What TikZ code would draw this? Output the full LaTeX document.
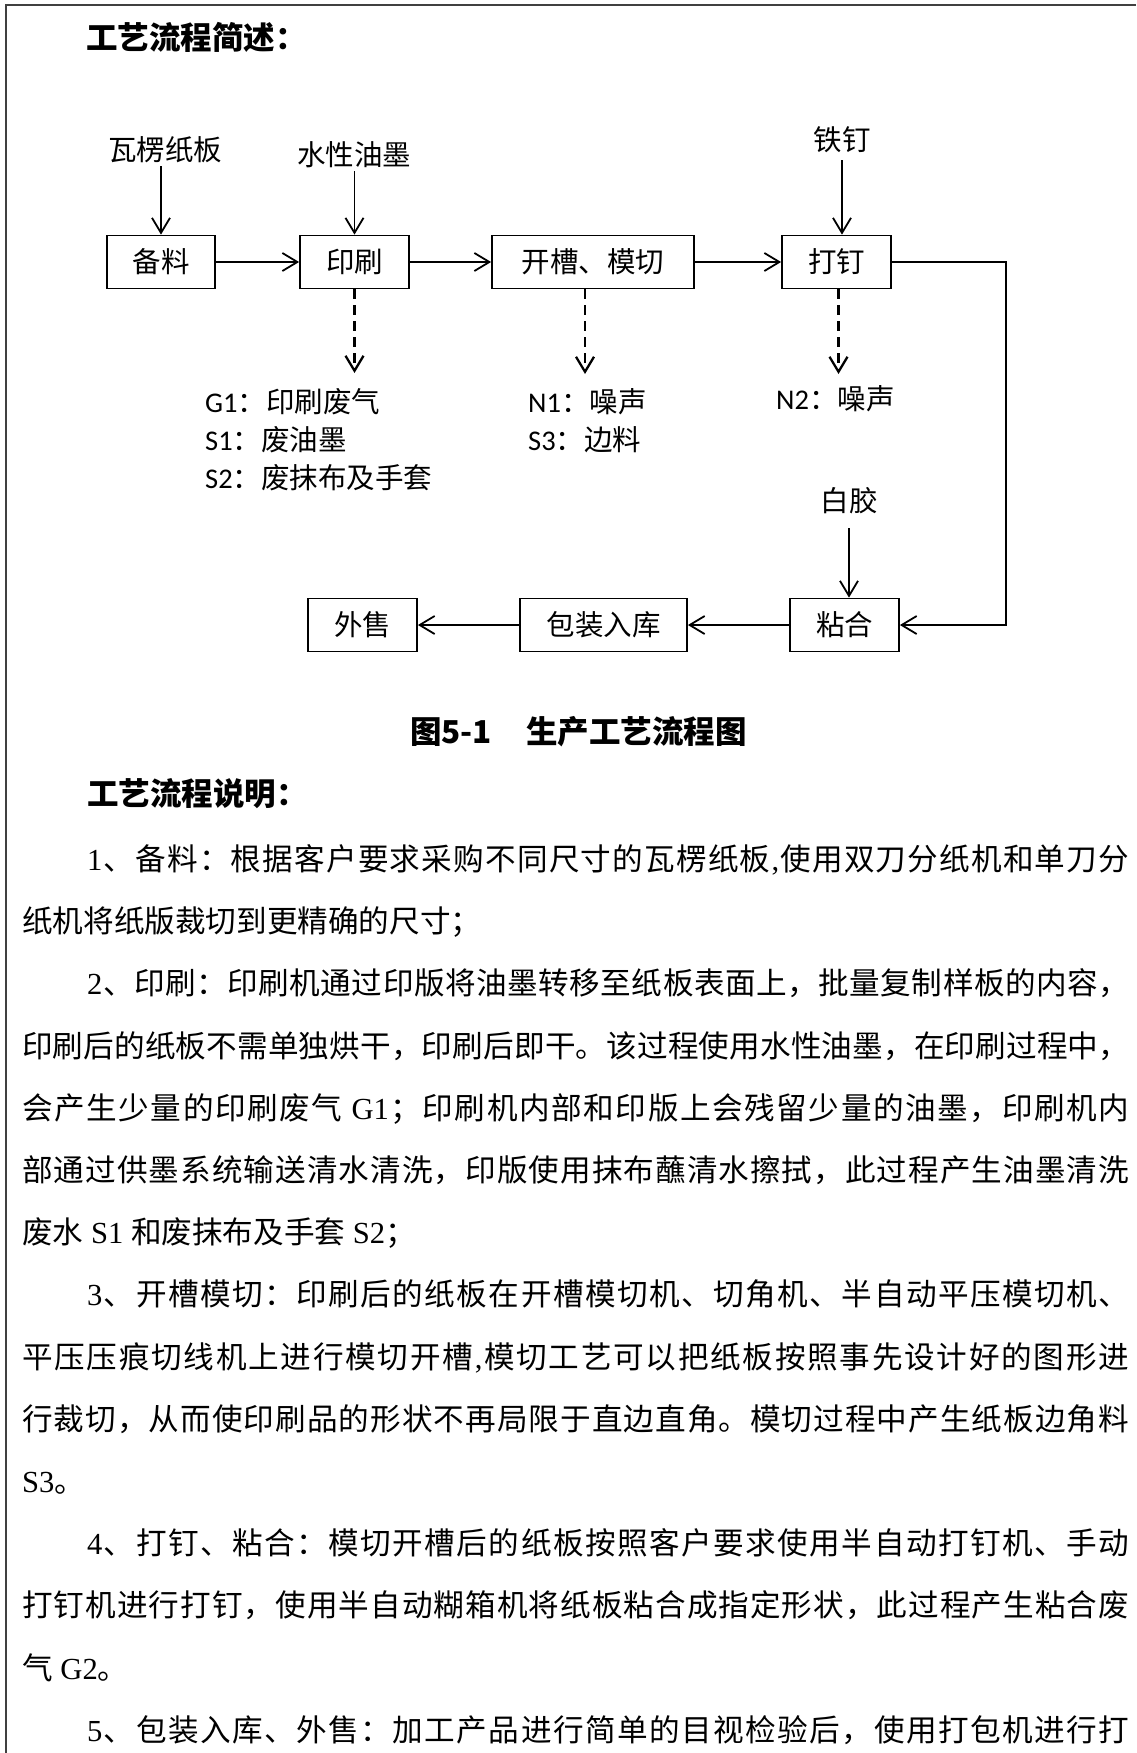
\documentclass[tikz,border=0pt]{standalone}
\usepackage{fontspec}
\setmainfont{Noto Sans CJK SC}
\newfontfamily\lserif{Liberation Serif}
\newfontfamily\carlito{Carlito}
\usetikzlibrary{arrows.meta,calc}
\newcommand\lblfont{\fontsize{28.5}{28.5}\selectfont}
\newcommand\bdfont{\fontsize{30.6}{30.6}\selectfont}
\newcommand\ttlfont{\fontsize{31.5}{31.5}\selectfont\bfseries}
\makeatletter
\def\sp@stop{\sp@stop}
\newcommand\jline[2]{\hbox to #1{\sp@first#2\sp@stop}}
\def\sp@first#1{#1\sp@rest}
\def\sp@rest#1{\ifx\sp@stop#1\else\hskip 0pt plus 1fil\relax#1\expandafter\sp@rest\fi}
\makeatother
\begin{document}
\begin{tikzpicture}[x=1pt,y=-1pt,
  box/.style={draw, line width=1.8pt, minimum height=53pt, inner sep=0pt, font=\lblfont},
  lbl/.style={inner sep=0pt, font=\lblfont},
  elbl/.style={inner sep=0pt, anchor=base west, font=\lblfont},
  flow/.style={line width=1.8pt, line join=miter, -{Straight Barb[length=15pt,width=18pt]}},
  emit/.style={flow, line width=2.3pt, dash pattern=on 10pt off 6pt},
  body/.style={inner sep=0pt, anchor=base west, font=\bdfont},
  ttl/.style={inner sep=0pt, anchor=base west, font=\ttlfont},
  pageframe/.style={line width=2pt, draw=black!75}]
\fill[white] (0,0) rectangle (1136,1753);
\useasboundingbox (0,0) rectangle (1136,1753);
% page frame
\draw[pageframe] (1136,5) -- (6,5) -- (6,1753);

% headings
\node[ttl] (h1) at (86,50) {工艺流程简述：};

% process boxes
\node[box, minimum width=108pt] (bl) at (161,262) {备料};
\node[box, minimum width=109pt] (ys) at (354.5,262) {印刷};
\node[box, minimum width=202pt] (kc) at (593,262) {开槽、模切};
\node[box, minimum width=109pt] (dd) at (836.5,262) {打钉};
\node[box, minimum width=109pt] (nh) at (844.5,625) {粘合};
\node[box, minimum width=167pt] (bz) at (603.5,625) {包装入库};
\node[box, minimum width=109pt] (ws) at (362.5,625) {外售};

% inputs
\node[lbl] (wl) at (165,150) {瓦楞纸板};
\node[lbl] (sx) at (354,155) {水性油墨};
\node[lbl] (td) at (842,140) {铁钉};
\node[lbl] (bj) at (849,501) {白胶};

\draw[flow] ($(wl.south -| bl.north)+(0,3)$) -- (bl.north);
\draw[flow] ($(sx.south -| ys.north)+(0,3)$) -- (ys.north);
\draw[flow] ($(td.south)+(0,7)$) -- (td.south |- dd.north);
\draw[flow] ($(bj.south)+(0,14)$) -- (bj.south |- nh.north);

% main flow
\draw[flow] (bl.east) -- (ys.west);
\draw[flow] (ys.east) -- (kc.west);
\draw[flow] (kc.east) -- (dd.west);
\coordinate (rc) at (1006,262);
\draw[flow] (dd.east) -- (rc) |- (nh.east);
\draw[flow] (nh.west) -- (bz.east);
\draw[flow] (bz.west) -- (ws.east);

% emissions
\coordinate (e1) at (354.5,373);
\coordinate (e2) at (585,374);
\coordinate (e3) at (838.5,374);
\draw[emit] (ys.south -| e1) -- (e1);
\draw[emit] (kc.south -| e2) -- (e2);
\draw[emit] (dd.south -| e3) -- (e3);

\node[elbl] (g1) at (205,412) {{\carlito G1}：印刷废气};
\node[elbl] (s1) at (205,450) {{\carlito S1}：废油墨};
\node[elbl] (s2) at (205,488) {{\carlito S2}：废抹布及手套};
\node[elbl] (n1) at (528,412) {{\carlito N1}：噪声};
\node[elbl] (s3) at (528,450) {{\carlito S3}：边料};
\node[elbl] (n2) at (776,409) {{\carlito N2}：噪声};

% caption
\node[ttl] (cap) at (410,743) {图5-1\hskip 34pt 生产工艺流程图};
\node[ttl] (h2) at (87,805) {工艺流程说明：};

% body text
\node[body] (l0) at (87,870.5) {\jline{1042pt}{{{\lserif 1}}、备料：根据客户要求采购不同尺寸的瓦楞纸板{{\lserif ,}}使用双刀分纸机和单刀分}};
\node[body] (l1) at (22,932.7) {纸机将纸版裁切到更精确的尺寸；};
\node[body] (l2) at (87,994.9) {\jline{1042pt}{{{\lserif 2}}、印刷：印刷机通过印版将油墨转移至纸板表面上，批量复制样板的内容，}};
\node[body] (l3) at (22,1057.1) {\jline{1107pt}{印刷后的纸板不需单独烘干，印刷后即干。该过程使用水性油墨，在印刷过程中，}};
\node[body] (l4) at (22,1119.3) {\jline{1107pt}{会产生少量的印刷废气{{\lserif\ G1}}；印刷机内部和印版上会残留少量的油墨，印刷机内}};
\node[body] (l5) at (22,1181.5) {\jline{1107pt}{部通过供墨系统输送清水清洗，印版使用抹布蘸清水擦拭，此过程产生油墨清洗}};
\node[body] (l6) at (22,1243.7) {废水{\lserif\ S1 }和废抹布及手套{\lserif\ S2}；};
\node[body] (l7) at (87,1305.9) {\jline{1042pt}{{{\lserif 3}}、开槽模切：印刷后的纸板在开槽模切机、切角机、半自动平压模切机、}};
\node[body] (l8) at (22,1368.1) {\jline{1107pt}{平压压痕切线机上进行模切开槽{{\lserif ,}}模切工艺可以把纸板按照事先设计好的图形进}};
\node[body] (l9) at (22,1430.3) {\jline{1107pt}{行裁切，从而使印刷品的形状不再局限于直边直角。模切过程中产生纸板边角料}};
\node[body] (l10) at (22,1492.5) {{\lserif S3}。};
\node[body] (l11) at (87,1554.7) {\jline{1042pt}{{{\lserif 4}}、打钉、粘合：模切开槽后的纸板按照客户要求使用半自动打钉机、手动}};
\node[body] (l12) at (22,1616.9) {\jline{1107pt}{打钉机进行打钉，使用半自动糊箱机将纸板粘合成指定形状，此过程产生粘合废}};
\node[body] (l13) at (22,1679.1) {气{\lserif\ G2}。};
\node[body] (l14) at (87,1741.3) {\jline{1042pt}{{{\lserif 5}}、包装入库、外售：加工产品进行简单的目视检验后，使用打包机进行打}};
\end{tikzpicture}
\end{document}
